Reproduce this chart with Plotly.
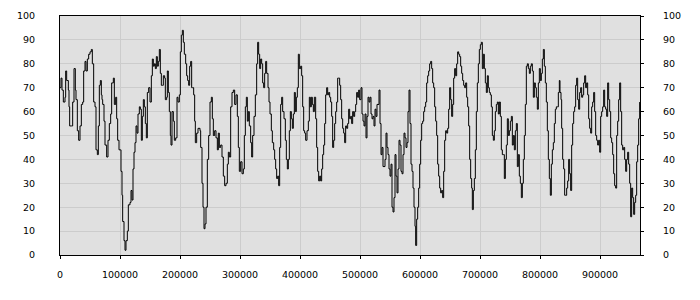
import plotly.graph_objects as go

x_vals = [
    0, 1667, 3333, 5556, 8333, 9444, 11111, 13889, 15000, 16111, 19444, 21111, 23333, 25556, 26667,
    28889, 31111, 33333, 35556, 37778, 39444, 41667, 43333, 45556, 47778, 50000, 52222, 53889, 56111,
    58333, 60000, 62222, 63889, 65556, 67222, 68889, 70000, 71111, 73333, 75000, 77778, 80000, 82222,
    84444, 86111, 88889, 90556, 92778, 94444, 96111, 98333, 100556, 101667, 103333, 104444, 106667,
    108333, 110000, 112222, 113889, 116667, 118333, 120000, 121667, 123333, 125000, 126667, 128333,
    130000, 132222, 133889, 135556, 137222, 138889, 140556, 142222, 143889, 145556, 147778, 150000,
    152222, 153889, 155556, 157222, 158889, 160556, 162222, 163889, 165556, 167222, 168889, 170556,
    172222, 174444, 175556, 177778, 178889, 180556, 182222, 183889, 185000, 186667, 188889, 190556,
    192778, 195000, 196667, 198889, 200556, 202222, 203889, 205556, 207222, 209444, 211111, 212778,
    214444, 216111, 217778, 219444, 221111, 222778, 224444, 225556, 227778, 230000,
    233333, 234444, 236667, 238333, 240000, 241667, 243333, 245556, 247778, 250000, 252222, 253889,
    255556, 257778, 260000, 262222, 263889, 265556, 267778, 270000, 272222, 274444, 276667, 278889,
    280556, 282222, 284444, 286667, 288889, 291111, 293333, 295556, 297222, 298889, 301111, 303333,
    305556, 307222, 308889, 310556, 312222, 313889, 315556, 317778, 319444, 321111, 323333, 325556,
    327778, 329444, 331111, 332778, 334444, 336111, 337778, 339444, 341111, 342778, 344444, 346667,
    348333, 350000, 352222, 353889, 356111, 357778, 359444, 361111, 362778, 364444, 366111, 367778,
    369444, 371111, 373333, 375556, 377222, 378889, 380556, 382222, 383889, 385556, 387222, 388889,
    390556, 392222, 393889, 395556, 397222, 398889, 401111, 402778, 404444, 406111, 407778, 409444,
    411667, 413889, 415556, 417222, 418889, 420556, 422222, 423889, 426111, 427778, 429444, 431111,
    432778, 434444, 436111, 437778, 439444, 441111, 442778, 444444, 446111, 447778, 449444, 451111,
    452778, 454444, 456111, 457778, 459444, 461111, 462778, 464444, 466111, 467778, 469444, 471111,
    472778, 474444, 476111, 477778, 479444, 481111, 482778, 484444, 486111, 487778, 489444, 491111,
    492778, 494444, 496111, 497778, 499444, 501667, 503333, 505000, 506667, 508333, 510000, 511667,
    513333, 515000, 516667, 518333, 520000, 521667, 523333, 525000, 526667, 528333, 530000, 531667,
    533333, 535000, 536667, 538333, 540000, 541667, 543333, 545000, 546667, 548333, 550000, 551667,
    553333, 555000, 556667, 558333, 560000, 561667, 563333, 565000, 566667, 568333, 570000, 571667,
    573333, 575000, 576667, 578333, 580000, 581667, 583333, 585000, 586667, 588333, 590000, 591667,
    592778, 594444, 596111, 597778, 599444, 601111, 602778, 604444, 606111, 607778, 609444, 611111,
    612778, 614444, 616111, 617778, 619444, 621111, 622778, 624444, 626111, 627778, 629444, 631111,
    632778, 634444, 636111, 637778, 639444, 641111, 642778, 644444, 646111, 647778, 649444, 651111,
    652778, 654444, 656111, 657778, 659444, 661111, 662778, 664444, 666111, 667778, 669444, 671111,
    672778, 674444, 676111, 677778, 679444, 681111, 682778, 684444, 686111, 687222, 688889, 690556,
    692222, 693889, 695556, 697222, 698889, 700556, 702222, 703889, 705556, 707222, 708889, 710556,
    712222, 713889, 715556, 717222, 718889, 720556, 722222, 723889, 725556, 727222, 728889, 730556,
    732222, 733889, 735556, 737222, 738889, 740556, 742222, 743889, 745556, 747222, 748889, 750556,
    752222, 753889, 755556, 757222, 758889, 760556, 762222, 763889, 765556, 767222, 768889, 770556,
    772222, 773889, 775556, 777222, 778889, 780556, 782222, 783889, 785556, 787222, 788889, 790556,
    792222, 793889, 795556, 797222, 798889, 800556, 802222, 803889, 805556, 807222, 808889, 810556,
    812222, 813889, 815556, 817222, 818889, 820556, 822222, 823889, 825556, 827222, 828889, 830556,
    832222, 833333, 835000, 836111, 837778, 839444, 841111, 842778, 844444, 846111, 847778, 849444,
    851111, 852778, 854444, 856111, 857778, 859444, 861111, 862778, 864444, 866111, 867778, 869444,
    871111, 872778, 874444, 876111, 877778, 879444, 881111, 882778, 884444, 886111, 887778, 889444,
    891111, 892778, 894444, 896111, 897778, 899444, 901111, 902778, 904444, 906111, 907778, 909444,
    911111, 912778, 914444, 916111, 917778, 919444, 921111, 922778, 924444, 926111, 927778, 929444,
    931111, 932778, 934444, 936111, 937778, 939444, 941111, 942778, 944444, 946111, 947778, 949444,
    951111, 952778, 954444, 956111, 957778, 959444, 961111, 962778, 964444, 966111,
]

y_vals = [
    70, 74, 69, 64, 66, 77, 73, 69, 62, 54, 54, 64, 78, 69, 65,
    52, 48, 54, 63, 64, 77, 81, 77, 82, 84, 85, 86, 80, 64,
    62, 44, 42, 54, 71, 73, 67, 65, 63, 56, 46, 41, 48, 55,
    59, 72, 74, 63, 66, 57, 48, 44, 44, 35, 25, 14, 6,
    2, 6, 10, 21, 22, 27, 23, 36, 43, 47, 54, 51,
    59, 62, 61, 48, 58, 65, 62, 55, 49, 68, 70, 64,
    75, 82, 79, 80, 78, 83, 79, 81, 86, 76, 71, 71,
    75, 74, 65, 66, 77, 68, 60, 50, 46, 60, 56, 48,
    49, 66, 64, 67, 85, 92, 94, 89, 84, 80, 75, 73,
    71, 79, 81, 70, 70, 67, 56, 47, 51, 53,
    52, 45, 30, 20, 11, 13, 20, 40, 50, 64, 66, 57,
    50, 52, 49, 44, 51, 45, 46, 41, 33, 29, 30, 38,
    43, 41, 62, 68, 69, 63, 67, 58, 45, 35, 39, 34,
    36, 50, 62, 66, 56, 60, 54, 47, 41, 50, 58, 67,
    80, 89, 84, 78, 82, 80, 72, 70, 76, 81, 76, 70,
    64, 59, 52, 47, 44, 40, 36, 32, 33, 29, 45, 63,
    66, 60, 57, 48, 40, 36, 40, 52, 60, 57, 53, 59,
    68, 60, 66, 70, 84, 78, 79, 75, 62, 52, 51, 48,
    52, 56, 66, 62, 66, 63, 60, 66, 57, 45, 35, 31,
    33, 31, 36, 42, 46, 55, 67, 70, 67, 68, 66, 64,
    58, 45, 48, 55, 60, 64, 74, 74, 71, 65, 57, 53,
    51, 47, 54, 53, 55, 61, 57, 58, 55, 60, 58, 60,
    63, 68, 66, 69, 65, 70, 59, 56, 54, 59, 49, 58,
    66, 64, 66, 59, 57, 58, 54, 61, 58, 63, 63, 69,
    55, 42, 45, 37, 37, 40, 51, 45, 42, 36, 33, 38,
    20, 18, 24, 42, 33, 26, 36, 48, 46, 35, 34, 42,
    51, 49, 45, 47, 60, 69, 55, 38, 35, 28, 20, 12,
    4, 15, 20, 28, 38, 48, 55, 56, 60, 62, 64, 72,
    75, 77, 80, 81, 78, 72, 70, 62, 56, 50, 38, 33,
    28, 26, 27, 24, 35, 48, 52, 51, 53, 61, 70, 65,
    58, 63, 74, 78, 75, 80, 85, 84, 83, 79, 76, 73,
    71, 70, 72, 66, 62, 54, 40, 32, 28, 19, 27, 32,
    44, 60, 72, 80, 86, 88, 89, 78, 84, 78, 72, 68,
    75, 70, 68, 67, 62, 50, 48, 52, 60, 63, 64, 59,
    64, 58, 44, 42, 42, 32, 40, 46, 57, 50, 52, 56,
    58, 46, 50, 44, 52, 55, 37, 42, 33, 30, 24, 30,
    40, 50, 63, 79, 80, 78, 76, 79, 80, 77, 66, 72,
    70, 66, 61, 72, 78, 73, 76, 82, 86, 79, 72, 64,
    52, 40, 32, 25, 38, 44, 47, 55, 61, 62, 62, 68,
    73, 68, 65, 53, 40, 36, 25, 25, 28, 31, 40, 34,
    27, 46, 55, 60, 62, 71, 74, 65, 61, 68, 70, 66,
    67, 72, 75, 70, 72, 67, 57, 53, 51, 62, 64, 68,
    60, 50, 48, 46, 48, 43, 58, 60, 62, 69, 62, 61,
    58, 72, 65, 60, 49, 47, 42, 34, 29, 28, 50, 56,
    65, 72, 60, 46, 44, 45, 40, 35, 40, 43, 38, 30,
    16, 28, 24, 17, 22, 25, 39, 46, 57, 64,
]

x_ticks = [0, 100000, 200000, 300000, 400000, 500000, 600000, 700000, 800000, 900000]
y_ticks = [0, 10, 20, 30, 40, 50, 60, 70, 80, 90, 100]
x_max = 966667

font = dict(family="DejaVu Sans", size=9.5, color="#000000")

fig = go.Figure()
fig.add_trace(go.Scatter(x=x_vals, y=y_vals, mode="lines", line=dict(color="#000000", width=1, shape="hv"),
                         hoverinfo="skip", showlegend=False))
fig.add_trace(go.Scatter(x=x_vals, y=y_vals, mode="lines", yaxis="y2", line=dict(color="rgba(0,0,0,0)", width=0),
                         hoverinfo="skip", showlegend=False))

fig.update_layout(
    width=700, height=300,
    margin=dict(l=60, r=60, t=10, b=45),
    paper_bgcolor="#ffffff", plot_bgcolor="#e0e0e0",
    font=font,
    xaxis=dict(range=[0, x_max], tickvals=x_ticks, ticktext=[str(v) for v in x_ticks],
               showgrid=True, gridcolor="#cccccc", gridwidth=1, zeroline=False,
               showline=True, linecolor="#000000", linewidth=1, mirror=True,
               ticks="outside", ticklen=3, tickcolor="#000000", ticklabelstandoff=8,
               tickfont=font),
    yaxis=dict(range=[0, 100], tickvals=y_ticks, showgrid=True, gridcolor="#cccccc", gridwidth=1,
               zeroline=False, showline=True, linecolor="#000000", linewidth=1, mirror=True,
               ticks="", ticklabelstandoff=22, tickfont=font),
    yaxis2=dict(range=[0, 100], tickvals=y_ticks, overlaying="y", side="right", showgrid=False,
                zeroline=False, showline=True, linecolor="#000000", linewidth=1,
                ticks="outside", ticklen=3, tickcolor="#000000", ticklabelstandoff=17, tickfont=font),
)

fig.write_html("out.html")
